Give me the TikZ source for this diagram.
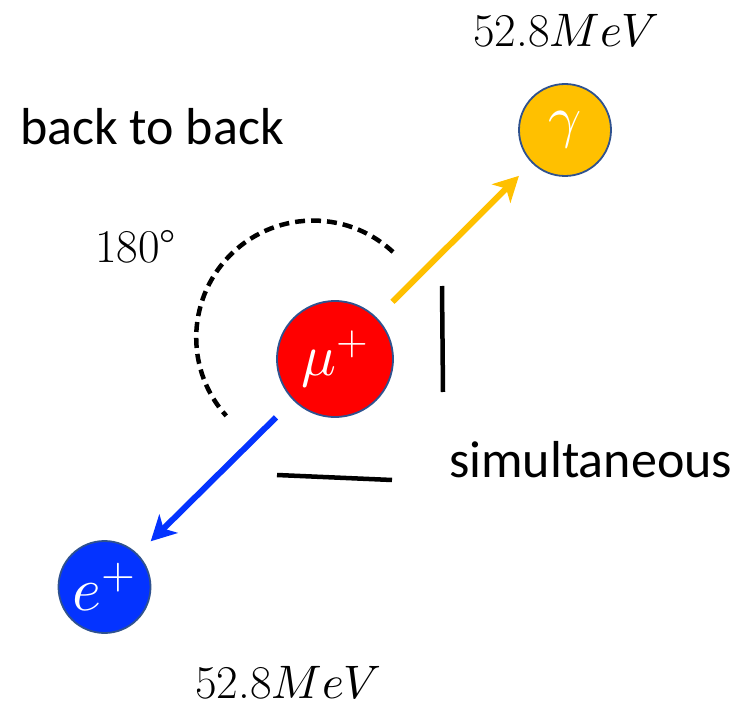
\documentclass[tikz,border=0pt]{standalone}
\usepackage{fontspec}
\usepackage{unicode-math}
\setmathfont{Latin Modern Math}
\newfontfamily\calib{Carlito}
\usetikzlibrary{arrows.meta}
\definecolor{mured}{HTML}{FF0000}
\definecolor{gamgold}{HTML}{FFC000}
\definecolor{posblue}{HTML}{0433FF}
\definecolor{rimblue}{HTML}{2F528F}
\tikzset{
  particle/.style={circle, draw=rimblue, line width=1.8pt, inner sep=0pt, outer sep=0pt, text=white},
  flight/.style={line width=6pt, -{Stealth[length=25pt,width=26pt,inset=7pt]}},
  blackbar/.style={line width=4.5pt, black},
  word/.style={inner sep=0pt, anchor=base west, font=\calib\fontsize{52}{60}\selectfont},
  numtext/.style={inner sep=0pt, anchor=base west, font=\fontsize{47}{56}\selectfont}
}
\begin{document}
\begin{tikzpicture}[x=1pt,y=-1pt]
\useasboundingbox (0,0) rectangle (748,706);
% particles
\node[particle, fill=mured, minimum size=116pt, font=\fontsize{58}{64}\selectfont] (mu) at (335,359) {$\mu^{+}$};
\node[particle, fill=gamgold, minimum size=92pt, font=\fontsize{58}{64}\selectfont] (gam) at (565,130) {$\gamma$};
\node[particle, fill=posblue, minimum size=92pt, font=\fontsize{62}{66}\selectfont] (pos) at (104.5,587) {$e^{+}$};
% arrows
\draw[flight, gamgold, shorten <=23pt, shorten >=19pt] (mu) -- (gam);
\draw[flight, posblue, shorten <=25pt, shorten >=19pt] (mu) -- (pos);
% dashed arc
\draw[line width=4.5pt, dash pattern=on 10pt off 6pt] (393,252) arc[start angle=-47, end angle=-222, radius=117];
% bars
\draw[blackbar] (442,286) -- (443,392);
\draw[blackbar] (277,475) -- (392,480);
% texts
\node[word] (b2b) at (20,145) {back to back};
\node[word] (sim) at (449,477) {simultaneous};
\node[numtext] (ang) at (95,263) {180\textdegree};
\node[numtext] (egam) at (473,47) {52.8$MeV$};
\node[numtext] (epos) at (195,698) {52.8$MeV$};
\end{tikzpicture}
\end{document}
